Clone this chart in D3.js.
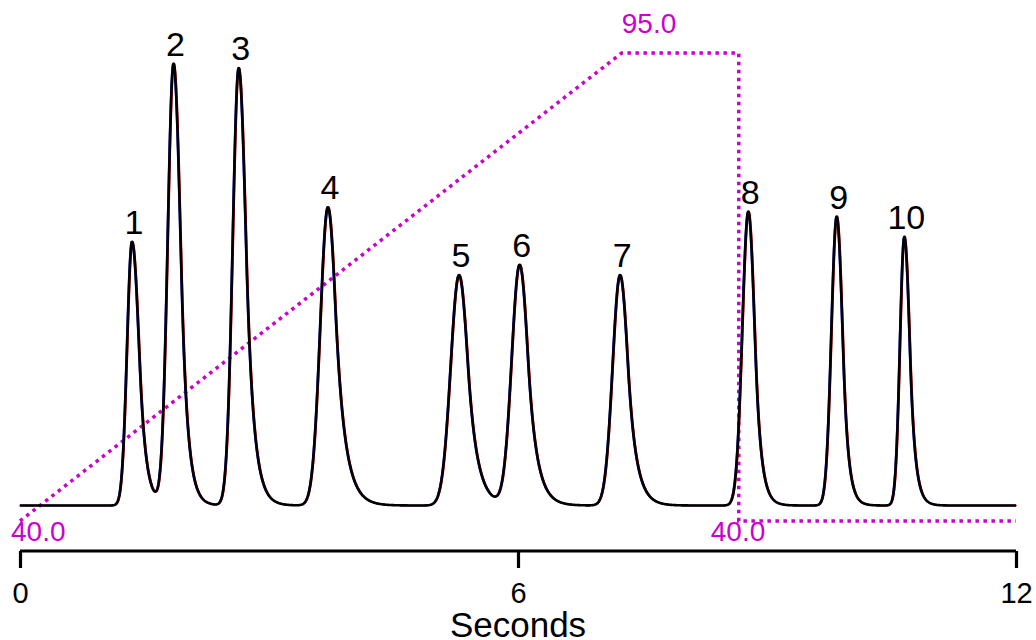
<!DOCTYPE html>
<html>
<head>
<meta charset="utf-8">
<script src="https://cdn.jsdelivr.net/npm/d3@7"></script>
<style>
  body { margin: 0; background: #fff; }
  text { font-family: "Liberation Sans", Arial, sans-serif; }
</style>
</head>
<body>
<div id="plot-area"></div>
<script>
// peak table (times in s, heights in % of full scale)
const peakLabels     = ["1", "2", "3", "4", "5", "6", "7", "8", "9", "10"]
const peakTimes      = [1.35, 1.85, 2.635, 3.71, 5.29, 6.02, 7.23, 8.775, 9.84, 10.655]
const peakHeights    = [58.6, 98.1, 97.2, 66.3, 51.2, 53.4, 51.2, 65.3, 64.2, 59.7]
// peak shape: front width, back width, exponential tail
const peakSigmaLeft  = [0.060, 0.070, 0.072, 0.092, 0.101, 0.096, 0.090, 0.072, 0.064, 0.053]
const peakSigmaRight = [0.084, 0.084, 0.088, 0.100, 0.108, 0.102, 0.096, 0.076, 0.070, 0.065]
const peakTails      = [0.072, 0.072, 0.084, 0.110, 0.108, 0.102, 0.096, 0.066, 0.058, 0.058]

// gradient program (%B)
const gradientTimes  = [0, 7.25, 8.66, 8.66, 12]
const gradientValues = [40, 95, 95, 40, 40]
const gradientLabelTimes  = [0, 7.25, 8.66]
const gradientLabelValues = [40, 95, 40]

const xTicks = [0, 6, 12]

const width = 1036
const height = 640

const svg = d3.select("#plot-area").append("svg")
    .attr("width", width)
    .attr("height", height)

const xScale = d3.scaleLinear().domain([0, 12]).range([20, 1016])
const yScale = d3.scaleLinear().domain([0, 100]).range([505.5, 55.5])
const gScale = d3.scaleLinear().domain([40, 95]).range([521, 53])

// gaussian front, gaussian back that turns into an exponential tail
function peakValue(x, sL, sR, tau) {
    if (x <= 0) return Math.exp(-x * x / (2 * sL * sL))
    const xc = sR * sR / tau
    if (x <= xc) return Math.exp(-x * x / (2 * sR * sR))
    return Math.exp(-xc * xc / (2 * sR * sR) - (x - xc) / tau)
}

const dt = 0.004
const grid = d3.range(0, 12 + dt / 2, dt)

const trace = grid.map(function(t) {
    let v = 0
    peakTimes.forEach(function(tp, i) {
        v += peakHeights[i] * peakValue(t - tp, peakSigmaLeft[i], peakSigmaRight[i], peakTails[i])
    })
    return {t: t, v: v}
})

function traceLine(dx) {
    return d3.line()
        .x(d => xScale(d.t) + dx)
        .y(d => yScale(d.v))
}

// gradient line
const gradient = gradientTimes.map((t, i) => ({t: t, v: gradientValues[i]}))

svg.append("path")
    .datum(gradient)
    .attr("d", d3.line().x(d => xScale(d.t)).y(d => gScale(d.v)))
    .attr("fill", "none")
    .attr("stroke", "#cc00cc")
    .attr("stroke-width", 3.5)
    .attr("stroke-dasharray", "3.5,4.5")

svg.selectAll(".grad-label")
    .data(gradientLabelTimes).enter()
    .append("text")
    .attr("class", "grad-label")
    .attr("x", function(t, i) {
        if (i == 0) return xScale(t) - 9
        if (i == 1) return xScale(t)
        return xScale(t) - 28
    })
    .attr("y", function(t, i) {
        const v = gradientLabelValues[i]
        return v > 60 ? gScale(v) - 20 : gScale(v) + 20
    })
    .attr("fill", "#cc00cc")
    .attr("font-size", 28)
    .text((t, i) => d3.format(".1f")(gradientLabelValues[i]))

// overlaid runs: faint coloured copies under the black trace
svg.append("path").datum(trace)
    .attr("d", traceLine(0.7))
    .attr("fill", "none").attr("stroke", "#c00000").attr("stroke-width", 1.6)
svg.append("path").datum(trace)
    .attr("d", traceLine(-0.6))
    .attr("fill", "none").attr("stroke", "#2020e0").attr("stroke-width", 1.6)
svg.append("path").datum(trace)
    .attr("d", traceLine(0))
    .attr("fill", "none").attr("stroke", "#000").attr("stroke-width", 2.6)
    .attr("stroke-linejoin", "round")

// peak numbers
svg.selectAll(".peak-label")
    .data(peakLabels).enter()
    .append("text")
    .attr("class", "peak-label")
    .attr("x", (d, i) => xScale(peakTimes[i]) + 2)
    .attr("y", (d, i) => yScale(peakHeights[i]) - 8)
    .attr("text-anchor", "middle")
    .attr("font-size", 34)
    .attr("fill", "#000")
    .text(d => d)

// x axis
const xAxis = d3.axisBottom(xScale)
    .tickValues(xTicks)
    .tickSize(17)
    .tickPadding(14)
    .tickFormat(d3.format("d"))

const axisG = svg.append("g")
    .attr("class", "axis x-axis")
    .attr("transform", "translate(0, 551)")
    .call(xAxis)

axisG.select(".domain")
    .attr("d", "M" + xScale(0) + ",0H" + xScale(12))
    .attr("stroke", "#000")
    .attr("stroke-width", 3.2)
axisG.selectAll(".tick line")
    .attr("stroke", "#000")
    .attr("stroke-width", 3.2)
axisG.selectAll(".tick text")
    .attr("font-size", 29)
    .attr("font-family", "Liberation Sans, Arial, sans-serif")
    .attr("fill", "#000")

svg.append("text")
    .attr("x", xScale(6))
    .attr("y", 637)
    .attr("text-anchor", "middle")
    .attr("font-size", 35)
    .attr("fill", "#000")
    .text("Seconds")
</script>
</body>
</html>
